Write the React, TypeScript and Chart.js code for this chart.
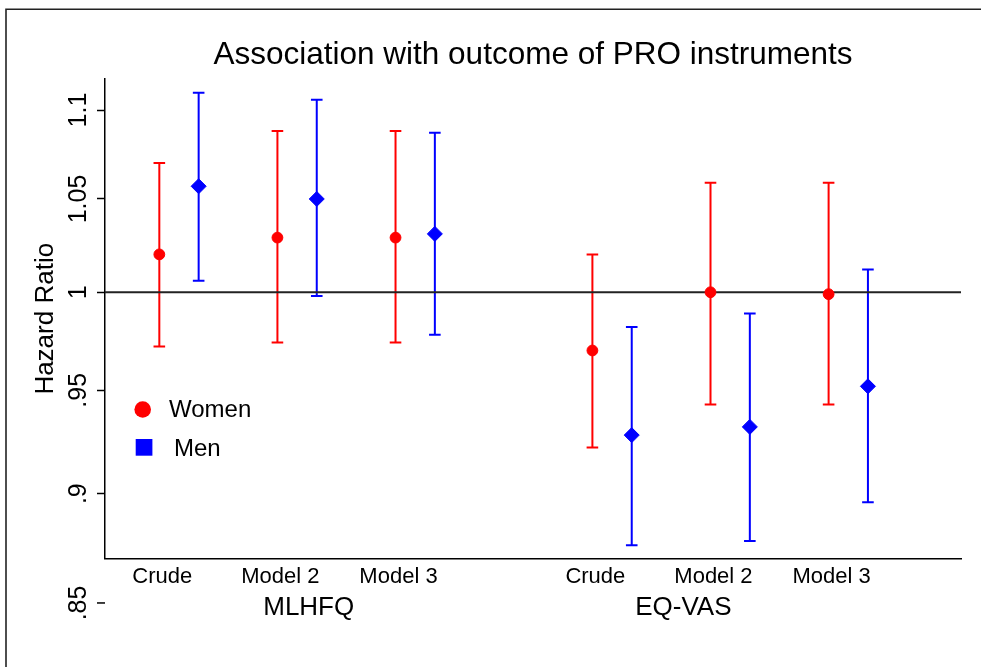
import React, { useEffect, useRef } from 'react';
import { Chart, registerables } from 'chart.js';

Chart.register(...registerables);

const FONT = "'Liberation Sans', Arial, Helvetica, sans-serif";

// ---- data ----
const TITLE = 'Association with outcome of PRO instruments';
const Y_TITLE = 'Hazard Ratio';
const CATEGORIES = ['Crude', 'Model 2', 'Model 3', 'Crude', 'Model 2', 'Model 3'];
const GROUPS = ['MLHFQ', 'EQ-VAS'];
const CATEGORY_POS = [1, 2, 3, 4.667, 5.667, 6.667];
const GROUP_POS = [2.265, 5.437];
const MEN_SHIFT = 0.333;
const LABEL_SHIFT = 0.025;

const WOMEN_HR = [1.020, 1.029, 1.029, 0.970, 1.000, 0.999];
const WOMEN_LO = [0.972, 0.974, 0.974, 0.922, 0.943, 0.943];
const WOMEN_HI = [1.070, 1.088, 1.088, 1.020, 1.059, 1.059];

const MEN_HR = [1.057, 1.050, 1.031, 0.928, 0.932, 0.952];
const MEN_LO = [1.006, 0.998, 0.978, 0.876, 0.878, 0.896];
const MEN_HI = [1.110, 1.106, 1.087, 0.982, 0.989, 1.012];

const Y_TICKS = [0.85, 0.9, 0.95, 1, 1.05, 1.1];
const Y_TICK_LABELS = ['.85', '.9', '.95', '1', '1.05', '1.1'];
const Y_MIN = 0.87;
const Y_MAX = 1.118;
const X_MIN = 0.54;
const X_MAX = 7.788;
const REF_VALUE = 1;

const RED = '#ff0000';
const BLUE = '#0000ff';

const framePlugin = {
  id: 'frame',
  beforeDraw(chart: any) {
    const { ctx, width, height } = chart;
    ctx.save();
    ctx.fillStyle = '#ffffff';
    ctx.fillRect(0, 0, width, height);
    ctx.strokeStyle = '#222222';
    ctx.lineWidth = 1.6;
    ctx.beginPath();
    ctx.moveTo(6, height + 2);
    ctx.lineTo(6, 9.2);
    ctx.lineTo(width + 2, 9.2);
    ctx.stroke();
    ctx.restore();
  },
};

const errorBarPlugin = {
  id: 'errorBars',
  beforeDatasetsDraw(chart: any) {
    const { ctx, chartArea } = chart;
    const xs = chart.scales.x;
    const ys = chart.scales.y;
    ctx.save();
    chart.data.datasets.forEach((ds: any) => {
      ctx.strokeStyle = ds.borderColor;
      ctx.lineWidth = 2;
      ds.data.forEach((pt: any, i: number) => {
        const px = xs.getPixelForValue(pt.x);
        const pLo = ys.getPixelForValue(ds.lower[i]);
        const pHi = ys.getPixelForValue(ds.upper[i]);
        const cap = 5.8;
        ctx.beginPath();
        ctx.moveTo(px, pLo);
        ctx.lineTo(px, pHi);
        ctx.moveTo(px - cap, pLo);
        ctx.lineTo(px + cap, pLo);
        ctx.moveTo(px - cap, pHi);
        ctx.lineTo(px + cap, pHi);
        ctx.stroke();
      });
    });
    // reference line
    const ry = ys.getPixelForValue(REF_VALUE);
    ctx.strokeStyle = '#222222';
    ctx.lineWidth = 2;
    ctx.beginPath();
    ctx.moveTo(chartArea.left, ry);
    ctx.lineTo(chartArea.right, ry);
    ctx.stroke();
    ctx.restore();
  },
};

const annotatePlugin = {
  id: 'annotate',
  afterDraw(chart: any) {
    const { ctx, chartArea } = chart;
    const ys = chart.scales.y;
    ctx.save();
    // title, centred over the plot region
    ctx.fillStyle = '#000000';
    ctx.font = `31.5px ${FONT}`;
    ctx.textAlign = 'center';
    ctx.textBaseline = 'middle';
    ctx.fillText(TITLE, (chartArea.left + chartArea.right) / 2, 55);

    // y tick labels (rotated) and out-of-range tick marks
    ctx.font = `25px ${FONT}`;
    Y_TICKS.forEach((v, i) => {
      const py = ys.getPixelForValue(v);
      ctx.save();
      ctx.translate(85.5, py);
      ctx.rotate(-Math.PI / 2);
      ctx.textAlign = 'center';
      ctx.textBaseline = 'alphabetic';
      ctx.fillText(Y_TICK_LABELS[i], 0, 0);
      ctx.restore();
      if (v < ys.min || v > ys.max) {
        ctx.strokeStyle = '#000000';
        ctx.lineWidth = 1.5;
        ctx.beginPath();
        ctx.moveTo(chartArea.left - 8, py);
        ctx.lineTo(chartArea.left, py);
        ctx.stroke();
      }
    });

    // legend
    const women = chart.data.datasets[0];
    const men = chart.data.datasets[1];
    ctx.font = `24px ${FONT}`;
    ctx.textAlign = 'left';
    ctx.textBaseline = 'middle';
    ctx.fillStyle = women.backgroundColor;
    ctx.beginPath();
    ctx.arc(142.7, 409.5, 8.3, 0, Math.PI * 2);
    ctx.fill();
    ctx.fillStyle = '#000000';
    ctx.fillText(women.label, 169, 410);
    ctx.fillStyle = men.backgroundColor;
    ctx.fillRect(135.7, 439, 16.7, 16.7);
    ctx.fillStyle = '#000000';
    ctx.fillText(men.label, 174, 449);
    ctx.restore();
  },
};

export default function App() {
  const canvasRef = useRef<HTMLCanvasElement | null>(null);

  useEffect(() => {
    if (!canvasRef.current) return;
    const chart = new Chart(canvasRef.current, {
      type: 'scatter',
      data: {
        datasets: [
          {
            label: 'Women',
            data: WOMEN_HR.map((v, i) => ({ x: CATEGORY_POS[i], y: v })),
            lower: WOMEN_LO,
            upper: WOMEN_HI,
            backgroundColor: RED,
            borderColor: RED,
            borderWidth: 1,
            pointStyle: 'circle',
            pointRadius: 5.4,
            pointHoverRadius: 5.4,
          } as any,
          {
            label: 'Men',
            data: MEN_HR.map((v, i) => ({ x: CATEGORY_POS[i] + MEN_SHIFT, y: v })),
            lower: MEN_LO,
            upper: MEN_HI,
            backgroundColor: BLUE,
            borderColor: BLUE,
            borderWidth: 1,
            pointStyle: 'rectRot',
            pointRadius: 7.5,
            pointHoverRadius: 7.5,
          } as any,
        ],
      },
      options: {
        animation: false,
        responsive: true,
        maintainAspectRatio: false,
        events: [],
        layout: {
          autoPadding: false,
          padding: { top: 79, right: 20, bottom: 28.5, left: 0 },
        },
        plugins: {
          legend: { display: false },
          tooltip: { enabled: false },
          title: { display: false },
        },
        scales: {
          x: {
            type: 'linear',
            position: 'bottom',
            weight: 0,
            min: X_MIN,
            max: X_MAX,
            grid: { display: false, drawTicks: false },
            border: { display: true, color: '#000000', width: 1.5 },
            afterBuildTicks: (scale: any) => {
              scale.ticks = CATEGORY_POS.map((p) => ({ value: p + LABEL_SHIFT }));
            },
            afterFit: (scale: any) => {
              scale.height = 30;
            },
            ticks: {
              autoSkip: false,
              maxRotation: 0,
              minRotation: 0,
              padding: 5,
              color: '#000000',
              font: { family: FONT, size: 22 },
              callback: (_v: any, i: number) => CATEGORIES[i],
            },
          },
          x2: {
            type: 'linear',
            position: 'bottom',
            weight: 1,
            min: X_MIN,
            max: X_MAX,
            grid: { display: false, drawTicks: false },
            border: { display: false },
            afterBuildTicks: (scale: any) => {
              scale.ticks = GROUP_POS.map((p) => ({ value: p }));
            },
            afterFit: (scale: any) => {
              scale.height = 50;
            },
            ticks: {
              autoSkip: false,
              maxRotation: 0,
              minRotation: 0,
              padding: 3.4,
              color: '#000000',
              font: { family: FONT, size: 26 },
              callback: (_v: any, i: number) => GROUPS[i],
            },
          },
          y: {
            type: 'logarithmic',
            position: 'left',
            min: Y_MIN,
            max: Y_MAX,
            bounds: 'data',
            afterBuildTicks: (scale: any) => {
              scale.ticks = Y_TICKS.filter((v) => v >= Y_MIN && v <= Y_MAX).map((v) => ({ value: v }));
            },
            afterFit: (scale: any) => {
              scale.width = 105;
            },
            grid: {
              display: true,
              drawOnChartArea: false,
              drawTicks: true,
              tickLength: 8,
              tickWidth: 1.5,
              tickColor: '#000000',
              color: '#000000',
            },
            border: { display: true, color: '#000000', width: 1.5 },
            ticks: { display: false },
            title: {
              display: true,
              text: Y_TITLE,
              color: '#000000',
              font: { family: FONT, size: 26 },
              padding: { top: 30.4, bottom: 0 },
            },
          },
        },
      } as any,
      plugins: [framePlugin, errorBarPlugin, annotatePlugin],
    });
    return () => chart.destroy();
  }, []);

  return (
    <div
      style={{
        position: 'fixed',
        left: 0,
        top: 0,
        width: 981,
        height: 667,
        background: '#ffffff',
      }}
    >
      <canvas ref={canvasRef} />
    </div>
  );
}
